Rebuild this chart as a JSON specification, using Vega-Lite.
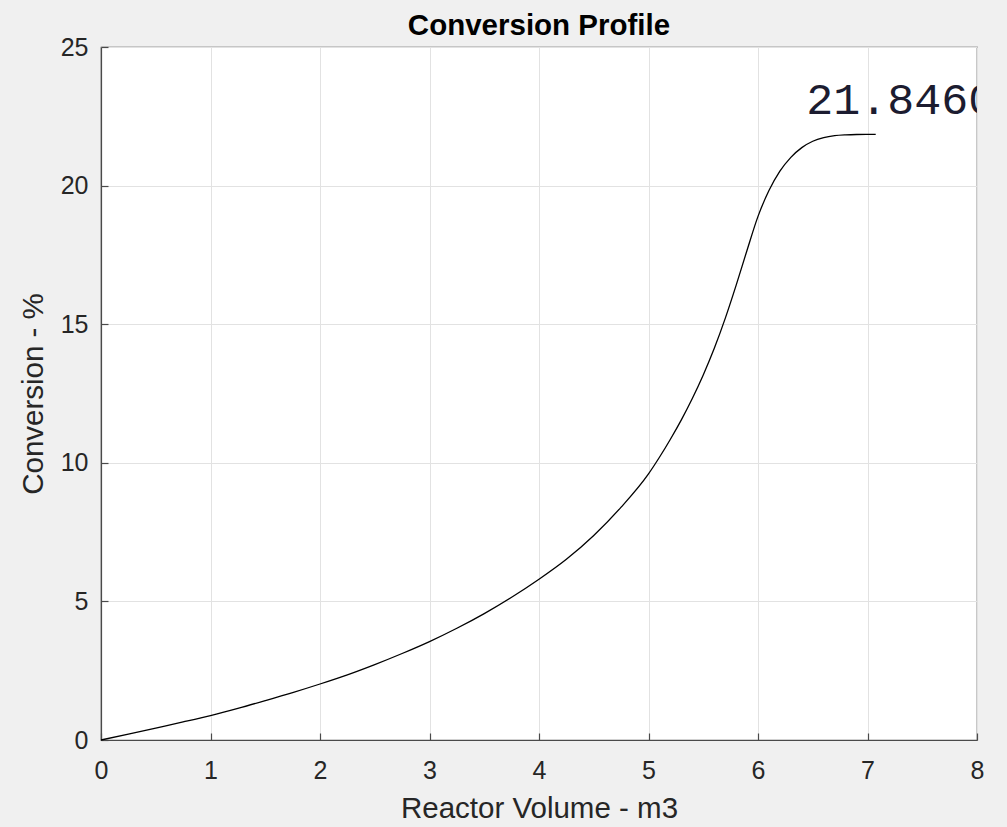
{
  "$schema": "https://vega.github.io/schema/vega-lite/v6.json",
  "autosize": {"type": "none"},
  "width": 876,
  "height": 693,
  "padding": {"left": 101, "top": 47, "right": 30, "bottom": 87},
  "background": "#f0f0f0",
  "title": {"text": "Conversion Profile", "font": "Liberation Sans", "fontSize": 29.5, "fontWeight": "bold", "color": "#000000", "offset": -6, "anchor": "middle"},
  "config": {
    "view": {"fill": "#ffffff", "stroke": "#4a4a4a", "strokeWidth": 1.2},
    "axis": {
      "labelFont": "Liberation Sans", "labelFontSize": 25, "labelColor": "#262626",
      "titleFont": "Liberation Sans", "titleFontSize": 29.5, "titleFontWeight": "normal", "titleColor": "#262626",
      "gridColor": "#e2e2e2", "gridWidth": 1,
      "domainColor": "#4a4a4a", "domainWidth": 1.2,
      "tickColor": "#4a4a4a", "tickSize": -7, "tickWidth": 1.2
    }
  },
  "datasets": {
    "profile": [
      {"v": 0, "c": 0}, {"v": 0.25, "c": 0.21}, {"v": 0.5, "c": 0.43}, {"v": 0.75, "c": 0.65},
      {"v": 1, "c": 0.88}, {"v": 1.25, "c": 1.14}, {"v": 1.5, "c": 1.42}, {"v": 1.75, "c": 1.71},
      {"v": 2, "c": 2.02}, {"v": 2.25, "c": 2.35}, {"v": 2.5, "c": 2.72}, {"v": 2.75, "c": 3.12},
      {"v": 3, "c": 3.55}, {"v": 3.25, "c": 4.03}, {"v": 3.5, "c": 4.56}, {"v": 3.75, "c": 5.15},
      {"v": 4, "c": 5.8}, {"v": 4.25, "c": 6.52}, {"v": 4.5, "c": 7.38}, {"v": 4.75, "c": 8.4},
      {"v": 5, "c": 9.6}, {"v": 5.1, "c": 10.2}, {"v": 5.2, "c": 10.85}, {"v": 5.3, "c": 11.55},
      {"v": 5.4, "c": 12.32}, {"v": 5.5, "c": 13.17}, {"v": 5.6, "c": 14.12}, {"v": 5.7, "c": 15.2},
      {"v": 5.8, "c": 16.4}, {"v": 5.9, "c": 17.67}, {"v": 6.0, "c": 18.89}, {"v": 6.1, "c": 19.82},
      {"v": 6.2, "c": 20.52}, {"v": 6.3, "c": 21.02}, {"v": 6.4, "c": 21.37}, {"v": 6.5, "c": 21.6},
      {"v": 6.6, "c": 21.73}, {"v": 6.7, "c": 21.8}, {"v": 6.8, "c": 21.83}, {"v": 6.9, "c": 21.843},
      {"v": 7.0, "c": 21.846}, {"v": 7.075, "c": 21.846}
    ],
    "annotation": [{"v": 6.44, "c": 22.6, "label": "21.8460"}]
  },
  "layer": [
    {
      "data": {"name": "profile"},
      "mark": {"type": "line", "color": "#000000", "strokeWidth": 1.3, "interpolate": "monotone"},
      "encoding": {
        "x": {"field": "v", "type": "quantitative", "scale": {"domain": [0, 8], "nice": false, "zero": false},
              "axis": {"title": "Reactor Volume - m3", "values": [0,1,2,3,4,5,6,7,8], "format": "d", "labelPadding": 25, "titlePadding": 11, "labelFlush": false}},
        "y": {"field": "c", "type": "quantitative", "scale": {"domain": [0, 25], "nice": false},
              "axis": {"title": "Conversion - %", "values": [0,5,10,15,20,25], "format": "d", "labelPadding": 20, "titlePadding": 12, "labelFlush": false}}
      }
    },
    {
      "data": {"name": "annotation"},
      "mark": {"type": "text", "font": "Liberation Mono", "fontSize": 45, "align": "left", "baseline": "alphabetic", "color": "#1c1c30", "clip": true},
      "encoding": {
        "x": {"field": "v", "type": "quantitative"},
        "y": {"field": "c", "type": "quantitative"},
        "text": {"field": "label"}
      }
    }
  ]
}
